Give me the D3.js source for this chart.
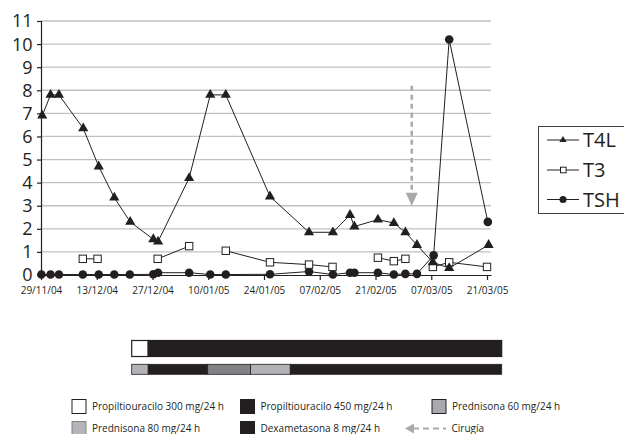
<!DOCTYPE html>
<html><head><meta charset="utf-8">
<script src="https://cdn.jsdelivr.net/npm/d3@7"></script>
<style>
body{margin:0;background:#fff}
svg{display:block}
text{font-family:"Open Sans",sans-serif;fill:#231f20}
</style>
</head><body>
<svg id="chart" width="624" height="434"></svg>
<script>
// ---------- data ----------
const xTickDays = [0, 14, 28, 42, 56, 70, 84, 98, 112];
const xTickLabels = ["29/11/04","13/12/04","27/12/04","10/01/05","24/01/05","07/02/05","21/02/05","07/03/05","21/03/05"];
const yTicks = [0,1,2,3,4,5,6,7,8,9,10,11];

// days since 29/11/04
const t4lDays   = [0.3, 2.4, 4.5, 10.6, 14.5, 18.4, 22.4, 28.2, 29.4, 37.2, 42.5, 46.4, 57.5, 67.3, 73.3, 77.6, 78.7, 84.6, 88.6, 91.5, 94.4, 98.4, 102.5, 112.4];
const t4lValues = [6.9, 7.8, 7.8, 6.35, 4.7, 3.35, 2.3, 1.55, 1.45, 4.2, 7.8, 7.8, 3.4, 1.85, 1.85, 2.6, 2.1, 2.4, 2.25, 1.85, 1.3, 0.55, 0.3, 1.3];

// null = break in the line
const t3Days   = [10.5, 14.2, null, 29.3, 37.2, null, 46.4, 57.5, 67.3, 73.2, null, 84.6, 88.6, 91.5, null, 98.4, 102.5, 112.0];
const t3Values = [0.7, 0.7, null, 0.7, 1.25, null, 1.05, 0.55, 0.45, 0.35, null, 0.75, 0.6, 0.7, null, 0.35, 0.55, 0.35];

const tshDays   = [0.1, 2.4, 4.5, 10.5, 14.5, 18.4, 22.3, 28.2, 29.4, 37.2, 42.5, 46.4, 57.5, 67.3, 73.3, 77.6, 78.7, 84.6, 88.6, 91.5, 94.4, 98.6, 102.5, 112.2];
const tshValues = [0.02, 0.02, 0.02, 0.02, 0.02, 0.02, 0.02, 0.03, 0.1, 0.1, 0.02, 0.02, 0.03, 0.15, 0.02, 0.1, 0.1, 0.1, 0.02, 0.05, 0.05, 0.85, 10.2, 2.3];

const surgeryDay = 93.1;
const surgeryFrom = 8.2, surgeryTo = 3.0;

// treatment timeline (days 0..112)
const ptuStart = [0, 5],            ptuEnd = [5, 112],            ptuDrug = ["ptu300", "ptu450"];
const sterStart = [0, 5, 23, 36, 48], sterEnd = [5, 23, 36, 48, 112], sterDrug = ["pred60", "dexa", "pred80", "pred60b", "dexa"];

const legendLabels = ["Propiltiouracilo 300 mg/24 h","Propiltiouracilo 450 mg/24 h","Prednisona 60 mg/24 h","Prednisona 80 mg/24 h","Dexametasona 8 mg/24 h","Cirugía"];
const seriesNames = ["T4L","T3","TSH"];

// ---------- styles ----------
const BLACK = "#231f20";
const drugFill = {ptu300:"#ffffff", ptu450:BLACK, pred60:"#b1b3b6", pred60b:"#b1b3b6", pred80:"#808285", dexa:BLACK};

// ---------- chart ----------
const svg = d3.select("#chart");
const x = d3.scaleLinear().domain([0, 113]).range([41, 491]);
const y = d3.scaleLinear().domain([0, 11]).range([275, 21]);

// gridlines
svg.append("g").selectAll("line").data(yTicks.filter(d => d > 0)).join("line")
  .attr("x1", x(0)).attr("x2", x(113)).attr("y1", d => y(d)).attr("y2", d => y(d))
  .attr("stroke", "#bfc1c3").attr("stroke-width", 1.3);

// y axis
const gy = svg.append("g").attr("transform", `translate(${x(0)},0)`)
  .call(d3.axisLeft(y).tickValues(yTicks).tickFormat(d3.format("d")).tickSize(4).tickPadding(4.5));
gy.select(".domain").attr("stroke", BLACK).attr("stroke-width", 1.2);
gy.selectAll(".tick line").attr("stroke", BLACK).attr("stroke-width", 1.2);
gy.selectAll("text").attr("font-size", 18).attr("font-family", "Open Sans").attr("fill", BLACK).attr("dy", "0.33em");

// x axis
const gx = svg.append("g").attr("transform", `translate(0,${y(0)})`)
  .call(d3.axisBottom(x).tickValues(xTickDays).tickFormat((d, i) => xTickLabels[i]).tickSizeInner(5).tickSizeOuter(0).tickPadding(6.5));
gx.select(".domain").attr("stroke", BLACK).attr("stroke-width", 1.2);
gx.selectAll(".tick line").attr("stroke", BLACK).attr("stroke-width", 1.2);
gx.selectAll("text").attr("font-size", 10).attr("font-family", "Open Sans").attr("fill", BLACK);

// surgery arrow
svg.append("line")
  .attr("x1", x(surgeryDay)).attr("x2", x(surgeryDay))
  .attr("y1", y(surgeryFrom)).attr("y2", y(surgeryTo) - 13)
  .attr("stroke", "#a7a9ac").attr("stroke-width", 2.5).attr("stroke-dasharray", "5,4");
svg.append("path")
  .attr("d", `M${x(surgeryDay)-6},${y(surgeryTo)-13}L${x(surgeryDay)+6},${y(surgeryTo)-13}L${x(surgeryDay)},${y(surgeryTo)}Z`)
  .attr("fill", "#a7a9ac");

function series(days, vals) { return days.map((d, i) => ({d, v: vals[i]})); }
const line = d3.line().defined(p => p.v !== null).x(p => x(p.d)).y(p => y(p.v));

const tsh = series(tshDays, tshValues);
const t3 = series(t3Days, t3Values);
const t4l = series(t4lDays, t4lValues);

[tsh, t3, t4l].forEach(s => {
  svg.append("path").datum(s).attr("d", line).attr("fill", "none").attr("stroke", BLACK).attr("stroke-width", 1);
});

// markers
svg.append("g").selectAll("circle").data(tsh).join("circle")
  .attr("cx", p => x(p.d)).attr("cy", p => y(p.v)).attr("r", 4.3).attr("fill", BLACK);
svg.append("g").selectAll("rect").data(t3.filter(p => p.v !== null)).join("rect")
  .attr("x", p => x(p.d) - 3.7).attr("y", p => y(p.v) - 3.7).attr("width", 7.4).attr("height", 7.4)
  .attr("fill", "#fff").attr("stroke", BLACK).attr("stroke-width", 1);
svg.append("g").selectAll("path").data(t4l).join("path")
  .attr("transform", p => `translate(${x(p.d)},${y(p.v)})`)
  .attr("d", d3.symbol(d3.symbolTriangle, 45)).attr("fill", BLACK);

// series legend
const lg = svg.append("g");
lg.append("rect").attr("x", 538.5).attr("y", 126.5).attr("width", 100).attr("height", 87)
  .attr("fill", "#fff").attr("stroke", "#414042").attr("stroke-width", 1);
const legY = [140, 170, 199.5];
seriesNames.forEach((n, i) => {
  const yy = legY[i];
  lg.append("line").attr("x1", 547).attr("x2", 579).attr("y1", yy).attr("y2", yy).attr("stroke", BLACK);
  if (i === 0) lg.append("path").attr("transform", `translate(563,${yy})`).attr("d", d3.symbol(d3.symbolTriangle, 22)).attr("fill", BLACK);
  if (i === 1) lg.append("rect").attr("x", 560.5).attr("y", yy - 2.8).attr("width", 5.6).attr("height", 5.6).attr("fill", "#fff").attr("stroke", BLACK);
  if (i === 2) lg.append("circle").attr("cx", 563).attr("cy", yy).attr("r", 3.5).attr("fill", BLACK);
  lg.append("text").attr("x", 583).attr("y", yy).attr("dy", "0.36em").attr("font-size", 20).text(n);
});

// ---------- treatment bars ----------
const tx = d3.scaleLinear().domain([0, 112]).range([131.7, 501.7]);
svg.append("g").selectAll("rect").data(ptuStart.map((s, i) => ({s, e: ptuEnd[i], k: ptuDrug[i]}))).join("rect")
  .attr("x", d => tx(d.s)).attr("width", d => tx(d.e) - tx(d.s))
  .attr("y", 340.5).attr("height", 16)
  .attr("fill", d => drugFill[d.k]).attr("stroke", BLACK).attr("stroke-width", 1.2);
svg.append("g").selectAll("rect").data(sterStart.map((s, i) => ({s, e: sterEnd[i], k: sterDrug[i]}))).join("rect")
  .attr("x", d => tx(d.s)).attr("width", d => tx(d.e) - tx(d.s))
  .attr("y", 364.3).attr("height", 10)
  .attr("fill", d => drugFill[d.k]).attr("stroke", BLACK).attr("stroke-width", 0.8);

// ---------- treatment legend ----------
const tl = svg.append("g");
const sw = [
  {x: 72, y: 399.5, fill: "#fff", stroke: BLACK, label: legendLabels[0]},
  {x: 240.5, y: 399.5, fill: BLACK, stroke: BLACK, label: legendLabels[1]},
  {x: 432, y: 399.5, fill: "#a7a9ac", stroke: BLACK, label: legendLabels[2]},
  {x: 72, y: 421.5, fill: "#b3b5b8", stroke: "#808285", label: legendLabels[3]},
  {x: 240.5, y: 421.5, fill: BLACK, stroke: BLACK, label: legendLabels[4]}
];
sw.forEach(s => {
  tl.append("rect").attr("x", s.x).attr("y", s.y).attr("width", 14).attr("height", 14)
    .attr("fill", s.fill).attr("stroke", s.stroke).attr("stroke-width", 1);
  tl.append("text").attr("x", s.x + 20).attr("y", s.y + 10.5).attr("font-size", 10).attr("textLength", null).text(s.label);
});
// cirugía legend
tl.append("path").attr("d", "M405,428.5L414,423.5L414,433.5Z").attr("fill", "#a7a9ac");
tl.append("line").attr("x1", 413).attr("x2", 446).attr("y1", 428.5).attr("y2", 428.5)
  .attr("stroke", "#a7a9ac").attr("stroke-width", 2).attr("stroke-dasharray", "6,4");
tl.append("text").attr("x", 451.5).attr("y", 432).attr("font-size", 10).text(legendLabels[5]);
</script>
</body></html>
